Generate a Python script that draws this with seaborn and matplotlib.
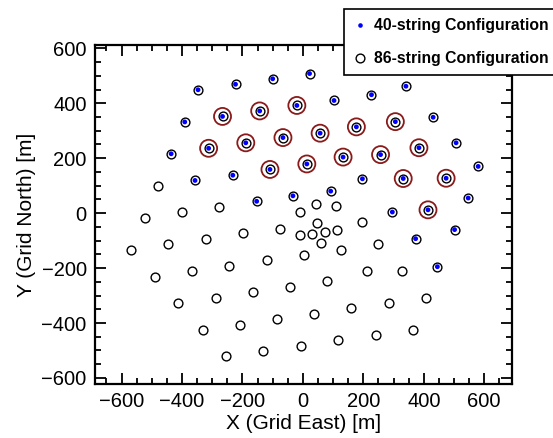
import numpy as np
import pandas as pd
import matplotlib
matplotlib.use("Agg")
import matplotlib.pyplot as plt
import seaborn as sns
from matplotlib.ticker import MultipleLocator
from matplotlib.lines import Line2D
from matplotlib.patches import Rectangle

# 40-string configuration strings (not highlighted)
ic40_x = [-347, -223, -100, 22, -391, -436, -357, -232, -153, -33,
          103, 227, 341, 431, 507, 580, 197, 92, 547, 296, 373, 502, 445]
ic40_y = [449, 469, 489, 508, 332, 216, 119, 138, 43, 63,
          410, 431, 462, 349, 256, 170, 125, 80, 55, 4, -93, -60, -195]

# 40-string configuration strings highlighted with a red ring
hl_x = [-266, -143, -20, -312, -189, -66, 13, -109, 57, 177, 306,
        133, 257, 384, 332, 474, 414]
hl_y = [352, 372, 392, 236, 256, 275, 179, 159, 291, 314, 333,
        204, 213, 238, 126, 127, 12]

# Additional strings of the 86-string configuration
ext_x = [-480, -524, -401, -276, -9, 42, 109, -569, -446, -322, -198, -77,
         -8, 31, 4, -490, -367, -243, -120, -413, -289, -165, -43, -332,
         -209, -86, 37, -255, -131, -7, 48, 73, 114, 59, 127, 197, 250,
         213, 329, 81, 408, 284, 160, 364, 241, 117]
ext_y = [100, -16, 3, 22, 4, 34, 26, -133, -114, -95, -74, -56,
         -80, -75, -151, -231, -211, -191, -172, -328, -309, -288, -269, -424,
         -406, -384, -366, -521, -502, -482, -36, -69, -63, -108, -133, -33, -113,
         -211, -211, -248, -308, -327, -345, -424, -442, -463]

legend_labels = ["40-string Configuration", "86-string Configuration"]

df40 = pd.DataFrame({"x": ic40_x + hl_x, "y": ic40_y + hl_y})
dfhl = pd.DataFrame({"x": hl_x, "y": hl_y})
df86 = pd.DataFrame({"x": ic40_x + hl_x + ext_x, "y": ic40_y + hl_y + ext_y})

sns.set_style("ticks")
plt.rcParams["font.family"] = ["Liberation Sans", "DejaVu Sans"]
plt.rcParams["text.color"] = "black"
plt.rcParams["axes.labelcolor"] = "black"
plt.rcParams["xtick.color"] = "black"
plt.rcParams["ytick.color"] = "black"

W, H = 553, 438
fig = plt.figure(figsize=(W / 100, H / 100), dpi=100)
ax = fig.add_axes([95 / W, 1 - 384 / H, (512 - 95) / W, (384 - 45) / H])

sns.scatterplot(data=dfhl, x="x", y="y", ax=ax, marker="o", s=150,
                facecolor="none", edgecolor="#8b1a1a", linewidth=1.3, zorder=2)
sns.scatterplot(data=df86, x="x", y="y", ax=ax, marker="o", s=40,
                facecolor="white", edgecolor="black", linewidth=1.0, zorder=3)
sns.scatterplot(data=df40, x="x", y="y", ax=ax, marker="o", s=12,
                color="#0000ff", edgecolor="none", linewidth=0, zorder=4)

ax.set_xlim(-688, 692)
ax.set_ylim(-622, 612)
ax.xaxis.set_major_locator(MultipleLocator(200))
ax.xaxis.set_minor_locator(MultipleLocator(50))
ax.yaxis.set_major_locator(MultipleLocator(200))
ax.yaxis.set_minor_locator(MultipleLocator(50))
ax.tick_params(which="both", direction="in", top=True, right=True,
               color="black", labelcolor="black", width=1.3)
ax.tick_params(which="major", length=8, labelsize=14.5, pad=6)
ax.tick_params(which="minor", length=4)
for sp in ax.spines.values():
    sp.set_linewidth(1.6)
    sp.set_color("black")
ax.set_xlabel("X (Grid East) [m]", fontsize=15, labelpad=2, color="black")
ax.set_ylabel("Y (Grid North) [m]", fontsize=15, labelpad=4, color="black")

# legend box (extends past the right edge of the figure, as in the reference)
box = Rectangle((344 / W, 1 - 75 / H), (570 - 344) / W, (75 - 9) / H,
                transform=fig.transFigure, facecolor="white", edgecolor="black",
                linewidth=1.2, zorder=5, clip_on=False)
fig.add_artist(box)

handles = [
    Line2D([], [], marker="o", linestyle="none", markersize=3.3,
           markerfacecolor="#0000ff", markeredgecolor="none"),
    Line2D([], [], marker="o", linestyle="none", markersize=6.3,
           markerfacecolor="white", markeredgecolor="black", markeredgewidth=1.0),
]
leg = fig.legend(handles, legend_labels, loc="upper left",
                 bbox_to_anchor=(344 / W, 1 - 9 / H), bbox_transform=fig.transFigure,
                 frameon=False, borderaxespad=0, borderpad=0.6,
                 handlelength=0.8, handletextpad=0.5, labelspacing=1.15,
                 prop={"weight": "bold", "size": 11.3, "family": ["Liberation Sans", "DejaVu Sans"]})
leg.set_zorder(6)
for t in leg.get_texts():
    t.set_color("black")

fig.savefig("out.png", dpi=100)
